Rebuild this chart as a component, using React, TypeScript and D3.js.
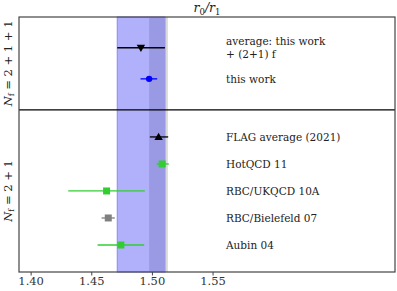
import React from "react";
import * as d3 from "d3";

// r0/r1 comparison, values
const labels = ["average: this work", "this work", "FLAG average (2021)", "HotQCD 11", "RBC/UKQCD 10A", "RBC/Bielefeld 07", "Aubin 04"];
const values = [1.4905, 1.4973, 1.5051, 1.508, 1.4622, 1.4636, 1.474];
const lower = [1.471, 1.4902, 1.4979, 1.5034, 1.4306, 1.4581, 1.4548];
const upper = [1.5103, 1.5039, 1.513, 1.5135, 1.4937, 1.469, 1.4932];
const rows = [8.3, 7.15, 5, 4, 3, 2, 1];
const markers = ["tri-down", "circle", "tri-up", "square", "square", "square", "square"];
const colors = ["#000000", "#0000ff", "#000000", "#33cc33", "#33cc33", "#808080", "#33cc33"];
const ticks = [1.4, 1.45, 1.5, 1.55];
const band = [1.471, 1.5103];
const bandDark = [1.4973, 1.5103];
const bandGray = [1.4973, 1.5127];
const divider = 6;

const W = 397, H = 291;
const m = { left: 19, right: 2, top: 17, bottom: 19 };
const serif = "'DejaVu Serif', serif";

function Marker({ type, x, y, color }: { type: string; x: number; y: number; color: string }) {
  if (type === "circle") return <circle cx={x} cy={y} r={3.2} fill={color} />;
  if (type === "square") return <rect x={x - 3.5} y={y - 3.5} width={7} height={7} fill={color} />;
  const s = 4.2;
  const pts = type === "tri-up"
    ? [[x, y - s], [x - s, y + s * 0.7], [x + s, y + s * 0.7]]
    : [[x, y + s], [x - s, y - s * 0.7], [x + s, y - s * 0.7]];
  return <polygon points={pts.map((p) => p.join(",")).join(" ")} fill={color} />;
}

export default function App() {
  const x = d3.scaleLinear().domain([1.39, 1.7]).range([m.left, W - m.right]);
  const y = d3.scaleLinear().domain([0, 9.44]).range([H - m.bottom, m.top]);
  const bottom = H - m.bottom;
  const txt = { fontFamily: serif, fontSize: 10.5, fill: "#222" };

  return (
    <svg width={W} height={H} style={{ position: "absolute", left: 0, top: 0, background: "#fff" }}>
      <rect x={x(bandGray[0])} y={m.top} width={x(bandGray[1]) - x(bandGray[0])} height={bottom - m.top} fill="#d9d9d9" />
      <rect x={x(band[0])} y={m.top} width={x(band[1]) - x(band[0])} height={bottom - m.top}
        fill="#b1b1fb" stroke="#8888f4" strokeWidth={1} />
      <rect x={x(bandDark[0])} y={m.top} width={x(bandDark[1]) - x(bandDark[0])} height={bottom - m.top} fill="#9999e4" />

      <line x1={m.left} x2={W - m.right} y1={y(divider)} y2={y(divider)} stroke="#000" strokeWidth={1.2} />

      {values.map((v, i) => (
        <g key={labels[i]}>
          <line x1={x(lower[i])} x2={x(upper[i])} y1={y(rows[i])} y2={y(rows[i])}
            stroke={colors[i]} strokeWidth={i === 0 ? 1.6 : 1.3} />
          <Marker type={markers[i]} x={x(v)} y={y(rows[i])} color={colors[i]} />
        </g>
      ))}

      <g style={txt}>
        <text x={226} y={y(rows[0]) - 6.5} dominantBaseline="central">average: this work</text>
        <text x={226} y={y(rows[0]) + 6.5} dominantBaseline="central">+ (2+1) f</text>
        {labels.slice(1).map((l, j) => (
          <text key={l} x={226} y={y(rows[j + 1])} dominantBaseline="central">{l}</text>
        ))}
      </g>

      <rect x={m.left} y={m.top} width={W - m.right - m.left} height={bottom - m.top}
        fill="none" stroke="#444" strokeWidth={1.2} />

      {ticks.map((t) => (
        <g key={t}>
          <line x1={x(t)} x2={x(t)} y1={bottom} y2={bottom + 3.5} stroke="#444" strokeWidth={1} />
          <text x={x(t)} y={bottom + 13} textAnchor="middle" style={{ ...txt, fontSize: 11.5, fill: "#333" }}>
            {d3.format(".2f")(t)}
          </text>
        </g>
      ))}

      <text x={(m.left + W - m.right) / 2} y={12} textAnchor="middle" style={{ ...txt, fontSize: 12.5 }}>
        <tspan fontStyle="italic">r</tspan><tspan fontSize={8.5} dy={3}>0</tspan>
        <tspan dy={-3} fontStyle="italic">/r</tspan><tspan fontSize={8.5} dy={3}>1</tspan>
      </text>

      {[{ c: (y(9.44) + y(divider)) / 2, s: "2 + 1 + 1" }, { c: (y(divider) + y(0)) / 2, s: "2 + 1" }].map((d) => (
        <text key={d.s} transform={`translate(12,${d.c}) rotate(-90)`} textAnchor="middle" style={{ ...txt, fontSize: 11.5 }}>
          <tspan fontStyle="italic">N</tspan><tspan fontSize={8} dy={2}>f</tspan>
          <tspan dy={-2}>{" = " + d.s}</tspan>
        </text>
      ))}
    </svg>
  );
}
